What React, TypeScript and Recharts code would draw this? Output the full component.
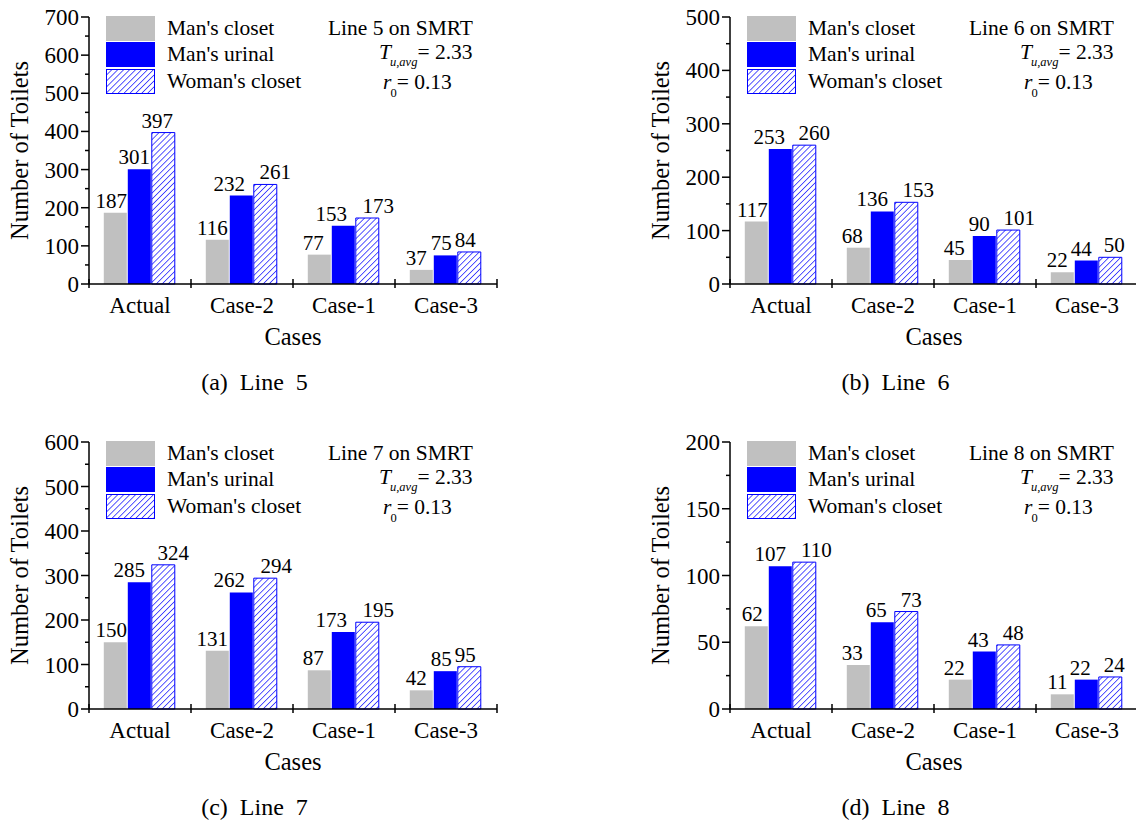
import React from 'react';
import { BarChart, Bar, XAxis, YAxis, Legend, LabelList } from 'recharts';

const CATEGORIES = ['Actual', 'Case-2', 'Case-1', 'Case-3'];

const LINE5_MAN_CLOSET = [187, 116, 77, 37];
const LINE5_MAN_URINAL = [301, 232, 153, 75];
const LINE5_WOMAN_CLOSET = [397, 261, 173, 84];

const LINE6_MAN_CLOSET = [117, 68, 45, 22];
const LINE6_MAN_URINAL = [253, 136, 90, 44];
const LINE6_WOMAN_CLOSET = [260, 153, 101, 50];

const LINE7_MAN_CLOSET = [150, 131, 87, 42];
const LINE7_MAN_URINAL = [285, 262, 173, 85];
const LINE7_WOMAN_CLOSET = [324, 294, 195, 95];

const LINE8_MAN_CLOSET = [62, 33, 22, 11];
const LINE8_MAN_URINAL = [107, 65, 43, 22];
const LINE8_WOMAN_CLOSET = [110, 73, 48, 24];

const LINE5_TICKS = [0, 50, 100, 150, 200, 250, 300, 350, 400, 450, 500, 550, 600, 650, 700];
const LINE6_TICKS = [0, 50, 100, 150, 200, 250, 300, 350, 400, 450, 500];
const LINE7_TICKS = [0, 50, 100, 150, 200, 250, 300, 350, 400, 450, 500, 550, 600];
const LINE8_TICKS = [0, 25, 50, 75, 100, 125, 150, 175, 200];

// horizontal nudges of the value labels (the original spreads crowded ones apart)
const LINE5_LABEL_DX = { closet: [-4, -5, -6, -5], urinal: [-5, -12, -12, -4], woman: [-6, 10, 11, -4] };
const LINE6_LABEL_DX = { closet: [-4, -6, -6, -5], urinal: [-11, -10, -5, -5], woman: [10, 12, 11, 4] };
const LINE7_LABEL_DX = { closet: [-4, -5, -6, -5], urinal: [-10, -12, -12, -4], woman: [10, 11, 11, -4] };
const LINE8_LABEL_DX = { closet: [-4, -6, -6, -5], urinal: [-10, -6, -6, -6], woman: [12, 5, 5, 4] };

const SERIF = '"Liberation Serif", "Times New Roman", Times, serif';
const GRAY = '#c0c0c0';
const BLUE = '#0000ff';

const CHART_W = 500;
const CHART_H = 410;
const PLOT_LEFT = 89;
const PLOT_TOP = 17;
const PLOT_W = 408;
const X_AXIS_H = 70;
const MARGIN_BOTTOM = 56;
const BAND = PLOT_W / CATEGORIES.length;

const PANELS = [
  { id: 'a', line: 5, left: 0, top: 0, max: 700, major: 100, ticks: LINE5_TICKS,
    closet: LINE5_MAN_CLOSET, urinal: LINE5_MAN_URINAL, woman: LINE5_WOMAN_CLOSET, dx: LINE5_LABEL_DX },
  { id: 'b', line: 6, left: 641, top: 0, max: 500, major: 100, ticks: LINE6_TICKS,
    closet: LINE6_MAN_CLOSET, urinal: LINE6_MAN_URINAL, woman: LINE6_WOMAN_CLOSET, dx: LINE6_LABEL_DX },
  { id: 'c', line: 7, left: 0, top: 425, max: 600, major: 100, ticks: LINE7_TICKS,
    closet: LINE7_MAN_CLOSET, urinal: LINE7_MAN_URINAL, woman: LINE7_WOMAN_CLOSET, dx: LINE7_LABEL_DX },
  { id: 'd', line: 8, left: 641, top: 425, max: 200, major: 50, ticks: LINE8_TICKS,
    closet: LINE8_MAN_CLOSET, urinal: LINE8_MAN_URINAL, woman: LINE8_WOMAN_CLOSET, dx: LINE8_LABEL_DX },
];

function HatchPattern({ id }: { id: string }) {
  return (
    <pattern id={id} patternUnits="userSpaceOnUse" width={4.2} height={4.2} patternTransform="rotate(45)">
      <rect x={0} y={0} width={4.2} height={4.2} fill="#fff" />
      <line x1={0} y1={0} x2={0} y2={4.2} stroke={BLUE} strokeWidth={1.3} />
    </pattern>
  );
}

function ValueTick({ x, y, payload, major }: any) {
  const isMajor = payload.value % major === 0;
  return (
    <g>
      <line x1={x - (isMajor ? 8 : 4)} x2={x} y1={y} y2={y} stroke="#000" strokeWidth={1.5} />
      {isMajor && (
        <text x={x - 10} y={y} dy="0.35em" textAnchor="end" fontSize={23} fontFamily={SERIF} fill="#000">
          {payload.value}
        </text>
      )}
    </g>
  );
}

function CategoryTick({ x, y, payload, index }: any) {
  const half = BAND / 2;
  return (
    <g>
      <line x1={x - half} x2={x - half} y1={y - 5} y2={y + 4} stroke="#000" strokeWidth={1.5} />
      {index === CATEGORIES.length - 1 && (
        <line x1={x + half} x2={x + half} y1={y - 5} y2={y + 4} stroke="#000" strokeWidth={1.5} />
      )}
      <text x={x} y={y + 29} textAnchor="middle" fontSize={23} fontFamily={SERIF} fill="#000">
        {payload.value}
      </text>
    </g>
  );
}

const makeLabel = (dx: number[]) => (props: any) => {
  const vb = props.viewBox ?? props;
  const x = Number(vb.x ?? props.x);
  const y = Number(vb.y ?? props.y);
  const w = Number(vb.width ?? props.width);
  const i = props.index ?? 0;
  return (
    <text x={x + w / 2 + (dx[i] ?? 0)} y={y - 5} textAnchor="middle" fontSize={21} fontFamily={SERIF} fill="#000">
      {props.value}
    </text>
  );
};

function Swatch({ kind, id }: { kind: string; id: string }) {
  if (kind === 'woman') {
    return (
      <svg width={49} height={25} style={{ display: 'block' }}>
        <defs>
          <HatchPattern id={`legend-hatch-${id}`} />
        </defs>
        <rect x={0.5} y={0.5} width={48} height={24} fill={`url(#legend-hatch-${id})`} stroke={BLUE} strokeWidth={1} />
      </svg>
    );
  }
  return <div style={{ width: 49, height: 25, background: kind === 'closet' ? GRAY : BLUE }} />;
}

const ROW_TOPS = [16, 42, 69];
const SUB_STYLE = { fontSize: 12.5, lineHeight: '12px', position: 'relative' as const, top: 7, marginLeft: -1 };

function LegendBox({ payload, id, line }: any) {
  const items = payload ?? [];
  return (
    <div style={{ position: 'relative', width: CHART_W, height: 100, fontFamily: SERIF, fontSize: 21.5, color: '#000' }}>
      {items.map((entry: any, i: number) => (
        <div key={entry.dataKey} style={{ position: 'absolute', left: 106, top: ROW_TOPS[i], height: 25, display: 'flex', alignItems: 'center' }}>
          <Swatch kind={entry.dataKey} id={id} />
          <span style={{ marginLeft: 12, lineHeight: '25px', whiteSpace: 'nowrap' }}>{entry.value}</span>
        </div>
      ))}
      <div style={{ position: 'absolute', right: CHART_W - 473, top: 16, lineHeight: '25px', whiteSpace: 'nowrap' }}>
        Line {line} on SMRT
      </div>
      <div style={{ position: 'absolute', left: 379, top: 44, lineHeight: '17px', whiteSpace: 'nowrap' }}>
        <span style={{ fontStyle: 'italic' }}>T</span>
        <span style={{ ...SUB_STYLE, fontStyle: 'italic' }}>u,avg</span>
        <span>= 2.33</span>
      </div>
      <div style={{ position: 'absolute', left: 383, top: 74, lineHeight: '17px', whiteSpace: 'nowrap' }}>
        <span style={{ fontStyle: 'italic' }}>r</span>
        <span style={{ ...SUB_STYLE, top: 8 }}>0</span>
        <span>= 0.13</span>
      </div>
    </div>
  );
}

function Panel({ cfg }: { cfg: (typeof PANELS)[number] }) {
  const data = CATEGORIES.map((name, i) => ({
    name,
    closet: cfg.closet[i],
    urinal: cfg.urinal[i],
    woman: cfg.woman[i],
  }));
  const hatchId = `hatch-${cfg.id}`;
  const axisStyle = { stroke: '#000', strokeWidth: 1.5 };
  return (
    <div style={{ position: 'absolute', left: cfg.left, top: cfg.top, width: CHART_W, height: CHART_H }}>
      <BarChart
        width={CHART_W}
        height={CHART_H}
        data={data}
        margin={{ top: PLOT_TOP, right: CHART_W - PLOT_LEFT - PLOT_W, bottom: MARGIN_BOTTOM, left: 0 }}
        barCategoryGap="14.5%"
        barGap={1}
      >
        <defs>
          <HatchPattern id={hatchId} />
        </defs>
        <XAxis
          dataKey="name"
          height={X_AXIS_H}
          interval={0}
          tickSize={0}
          tickMargin={0}
          tickLine={false}
          axisLine={axisStyle}
          tick={(p: any) => <CategoryTick {...p} />}
          label={{ value: 'Cases', position: 'insideBottom', offset: 9, style: { fontSize: 24.5, fontFamily: SERIF, fill: '#000' } }}
        />
        <YAxis
          width={PLOT_LEFT}
          domain={[0, cfg.max]}
          ticks={cfg.ticks}
          interval={0}
          tickSize={0}
          tickMargin={0}
          tickLine={false}
          axisLine={axisStyle}
          tick={(p: any) => <ValueTick {...p} major={cfg.major} />}
          label={{
            value: 'Number of Toilets',
            angle: -90,
            position: 'insideLeft',
            offset: 19.5,
            style: { textAnchor: 'middle', fontSize: 24.5, fontFamily: SERIF, fill: '#000' },
          }}
        />
        <Legend
          layout="horizontal"
          verticalAlign="middle"
          align="center"
          wrapperStyle={{ left: 0, top: 0, width: CHART_W, height: 100 }}
          content={(p: any) => <LegendBox {...p} id={cfg.id} line={cfg.line} />}
        />
        <Bar dataKey="closet" name="Man's closet" fill={GRAY} isAnimationActive={false}>
          <LabelList dataKey="closet" content={makeLabel(cfg.dx.closet)} />
        </Bar>
        <Bar dataKey="urinal" name="Man's urinal" fill={BLUE} isAnimationActive={false}>
          <LabelList dataKey="urinal" content={makeLabel(cfg.dx.urinal)} />
        </Bar>
        <Bar dataKey="woman" name="Woman's closet" fill={`url(#${hatchId})`} stroke={BLUE} strokeWidth={1} isAnimationActive={false}>
          <LabelList dataKey="woman" content={makeLabel(cfg.dx.woman)} />
        </Bar>
      </BarChart>
      <div
        style={{
          position: 'absolute',
          left: 154.5,
          top: 367,
          width: 200,
          textAlign: 'center',
          fontFamily: SERIF,
          fontSize: 24,
          lineHeight: '30px',
          whiteSpace: 'pre',
          color: '#000',
        }}
      >
        {`(${cfg.id})  Line  ${cfg.line}`}
      </div>
    </div>
  );
}

export default function App() {
  return (
    <div style={{ position: 'absolute', left: 0, top: 0, width: 1136, height: 821, overflow: 'hidden', background: '#fff' }}>
      {PANELS.map((cfg) => (
        <Panel key={cfg.id} cfg={cfg} />
      ))}
    </div>
  );
}
